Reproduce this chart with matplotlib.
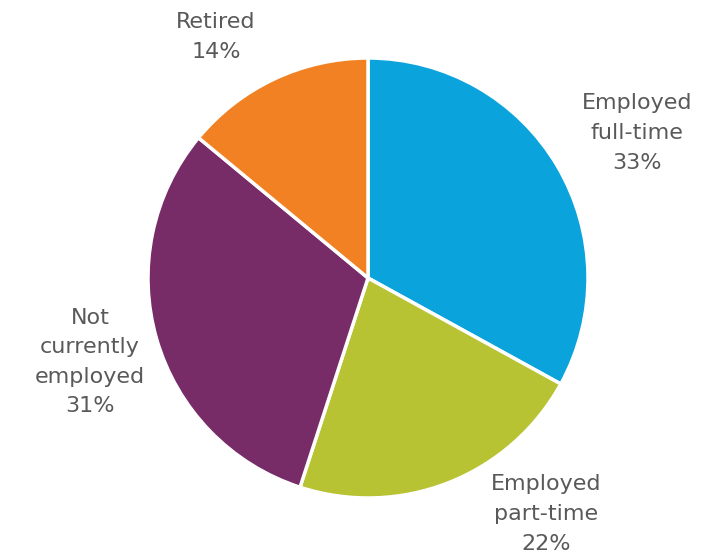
import matplotlib.pyplot as plt

labels = ["Employed\nfull-time\n33%", "Employed\npart-time\n22%",
          "Not\ncurrently\nemployed\n31%", "Retired\n14%"]
values = [33, 22, 31, 14]
colors = ["#0aa3dc", "#b8c334", "#772c67", "#f18122"]

# label block centres, in pixel coords of the 701x556 canvas (y measured from top)
label_pos = [(637, 133), (546, 514), (90, 362), (216, 37)]

W, H = 701, 556
fig = plt.figure(figsize=(W / 100, H / 100), dpi=100)
ax = fig.add_axes([0, 0, 1, 1])
ax.set_xlim(0, W)
ax.set_ylim(0, H)
ax.set_aspect("equal")
ax.axis("off")

ax.pie(values, colors=colors, startangle=90, counterclock=False,
       center=(368, H - 278), radius=220,
       wedgeprops=dict(edgecolor="white", linewidth=2.5))

for txt, (x, y) in zip(labels, label_pos):
    ax.text(x, H - y, txt, ha="center", va="center", fontsize=16,
            color="#595959", linespacing=1.6, family="DejaVu Sans")

ax.set_xlim(0, W)
ax.set_ylim(0, H)
fig.savefig("out.png", dpi=100)
